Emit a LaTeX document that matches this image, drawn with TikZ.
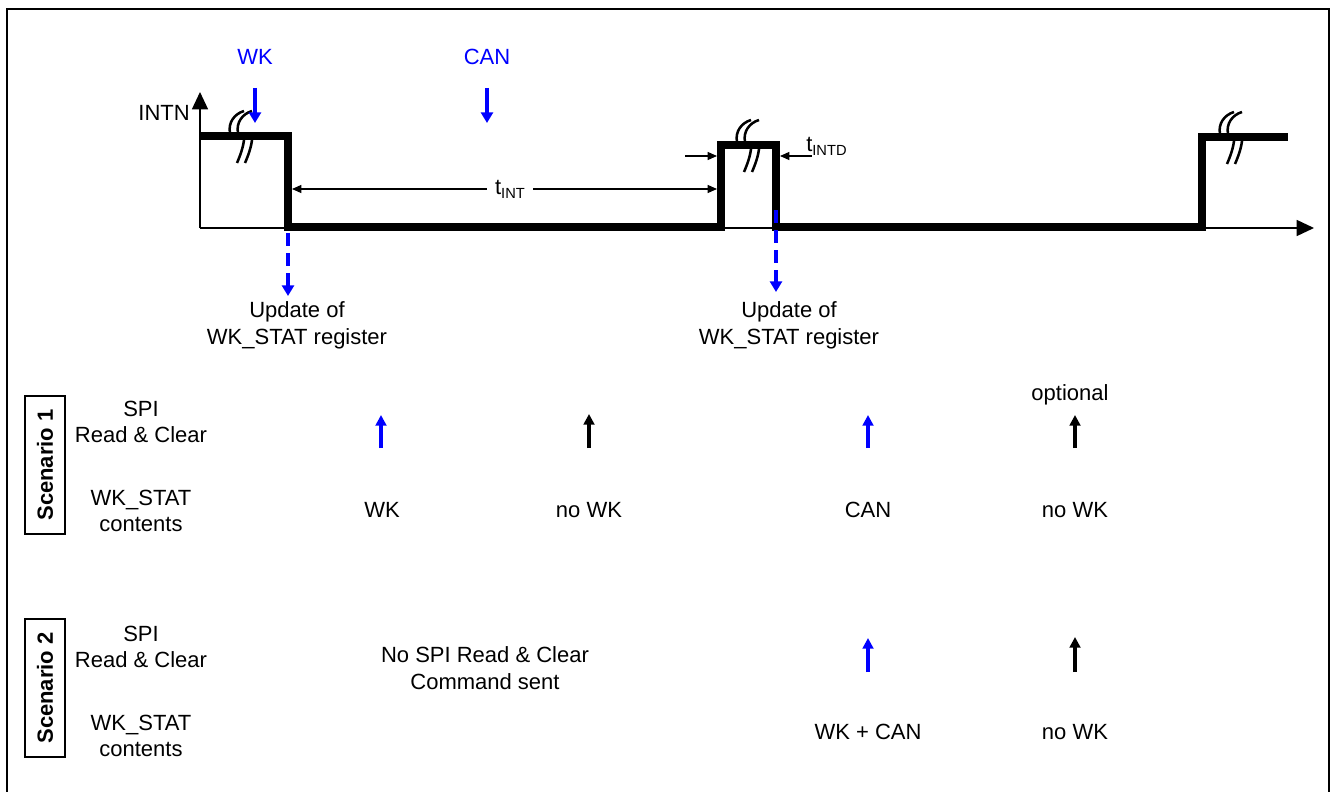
\documentclass[tikz,border=0pt]{standalone}
\usepackage{fontspec}
\setmainfont{Liberation Sans}
\usepackage{tikz}
\usetikzlibrary{arrows.meta,positioning}
\definecolor{eventblue}{RGB}{0,0,255}
\tikzset{
  lbl/.style={font=\fontsize{16.5}{20}\selectfont,align=center,inner sep=0pt},
  eventlbl/.style={lbl,text=eventblue},
  signal/.style={line width=5.5pt,line join=miter,line cap=butt},
  axisline/.style={line width=1.1pt,-{Triangle[width=12pt,length=13pt]}},
  timing/.style={line width=0.9pt,-{Triangle[width=6pt,length=7pt]}},
  evt/.style={draw=eventblue,line width=3pt,-{Triangle[width=9pt,length=8pt]}},
  update/.style={draw=eventblue,line width=2.4pt,dash pattern=on 10pt off 5pt,
    -{Triangle[width=9pt,length=8pt]}},
  spi/.style={line width=3pt,-{Triangle[width=8pt,length=8pt]}},
  scenario/.style={draw,line width=1.4pt,rotate=90,
    font=\fontsize{16.5}{20}\selectfont\bfseries,
    minimum width=103pt,minimum height=30pt,inner sep=0pt},
  brk/.style={line width=1.9pt},
  frame/.style={line width=1.3pt}
}
\newcommand{\tsub}[1]{\raisebox{-3pt}{\fontsize{11}{11}\selectfont #1}}
\newcommand{\brkmark}[2]{%
  \foreach \d in {0,8}{%
    \draw[brk,xshift=\d*0.75pt] (#1+6,#2-25) .. controls (#1-4,#2-22) and (#1-10,#2-13) .. (#1-8,#2-3);
    \draw[brk,xshift=\d*0.75pt] (#1+6,#2+4) .. controls (#1+5,#2+12) and (#1+2,#2+20) .. (#1-1,#2+27);
  }}

\begin{document}
\begin{tikzpicture}[x=0.75pt,y=-0.75pt]
  \useasboundingbox (0,0) rectangle (1332,792);
  \draw[frame] (7,792) -- (7,9) -- (1329,9) -- (1329,792);

  % INTN waveform
  \draw[axisline] (200,228) -- (200,92);
  \draw[axisline] (200,228) -- (1314,228);
  \node[lbl,anchor=east] (intn) at (190,113) {INTN};
  \draw[signal] (200,136) -- (288,136) -- (288,227) -- (721,227) -- (721,145)
    -- (776,145) -- (776,227) -- (1202,227) -- (1202,137) -- (1288,137);
  \brkmark{238}{136}
  \brkmark{745}{145}
  \brkmark{1228}{137}

  % wake-up events
  \node[eventlbl] (wk) at (255,57) {WK};
  \node[eventlbl] (can) at (487,57) {CAN};
  \coordinate (wkTop) at (255,88);
  \coordinate (wkTip) at (255,123);
  \coordinate (canTop) at (487,88);
  \coordinate (canTip) at (487,123);
  \draw[evt] (wkTop) -- (wkTip);
  \draw[evt] (canTop) -- (canTip);

  % timings
  \node[lbl,fill=white,inner xsep=6pt] (tint) at (510,189) {t\tsub{INT}};
  \coordinate (tintStart) at (292,189);
  \coordinate (tintEnd) at (717,189);
  \draw[timing] (tint.west) -- (tintStart);
  \draw[timing] (tint.east) -- (tintEnd);
  \node[lbl,anchor=west] (tintd) at (806,146) {t\tsub{INTD}};
  \coordinate (tintdL) at (685,156);
  \coordinate (tintdLTip) at (717,156);
  \coordinate (tintdR) at (812,156);
  \coordinate (tintdRTip) at (780,156);
  \draw[timing] (tintdL) -- (tintdLTip);
  \draw[timing] (tintdR) -- (tintdRTip);

  % register updates
  \node[lbl] (updA) at (297,325) {Update of\\WK\_STAT register};
  \node[lbl] (updB) at (789,325) {Update of\\WK\_STAT register};
  \coordinate (updAtop) at (288,233);
  \coordinate (updAtip) at (288,296);
  \coordinate (updBtop) at (776,210);
  \coordinate (updBtip) at (776,292);
  \draw[update] (updAtop) -- (updAtip);
  \draw[update] (updBtop) -- (updBtip);

  % scenario 1
  \node[scenario] (scA) at (45,465) {Scenario 1};
  \node[lbl] (spiA) at (141,422) {SPI\\Read \& Clear};
  \node[lbl] (statA) at (141,511) {WK\_STAT\\contents};
  \node[lbl] (opt) at (1070,395) {optional};
  \node[lbl] (rA1) at (382,510) {WK};
  \node[lbl] (rA2) at (589,510) {no WK};
  \node[lbl] (rA3) at (868,510) {CAN};
  \node[lbl] (rA4) at (1075,510) {no WK};
  \draw[spi,draw=eventblue] (381,448) -- (381,415);
  \draw[spi] (589,448) -- (589,414);
  \draw[spi,draw=eventblue] (868,448) -- (868,415);
  \draw[spi] (1075,448) -- (1075,415);

  % scenario 2
  \node[scenario] (scB) at (45,688) {Scenario 2};
  \node[lbl] (spiB) at (141,647) {SPI\\Read \& Clear};
  \node[lbl] (statB) at (141,736) {WK\_STAT\\contents};
  \node[lbl] (nospi) at (485,668) {No SPI Read \& Clear\\Command sent};
  \node[lbl] (rB1) at (868,732) {WK + CAN};
  \node[lbl] (rB2) at (1075,732) {no WK};
  \draw[spi,draw=eventblue] (868,672) -- (868,638);
  \draw[spi] (1075,672) -- (1075,637);
\end{tikzpicture}
\end{document}
